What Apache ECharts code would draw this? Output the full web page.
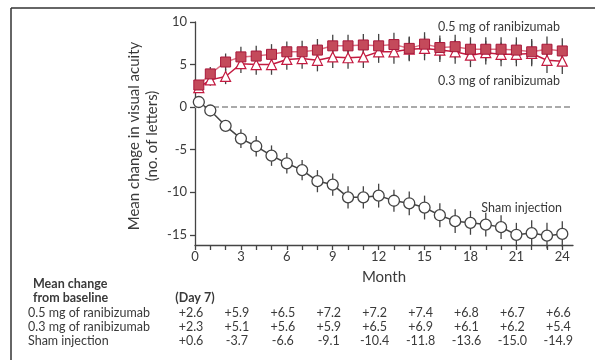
<!DOCTYPE html>
<html>
<head>
<meta charset="utf-8">
<script src="https://cdn.jsdelivr.net/npm/echarts@6/dist/echarts.min.js"></script>
<style>
  html, body { margin: 0; padding: 0; background: #fff; }
  #chart { width: 595px; height: 360px; }
</style>
</head>
<body>
<div id="chart"></div>
<script>
// months of each visit (first point is day 7)
const months = [0.25, 1, 2, 3, 4, 5, 6, 7, 8, 9, 10, 11, 12, 13, 14, 15, 16, 17, 18, 19, 20, 21, 22, 23, 24];

const dose05 = [2.6, 3.9, 5.3, 5.9, 6.0, 6.2, 6.5, 6.5, 6.7, 7.2, 7.2, 7.3, 7.2, 7.35, 6.9, 7.4, 7.0, 7.1, 6.8, 6.8, 6.8, 6.7, 6.5, 6.8, 6.6];
const dose03 = [2.3, 3.2, 3.6, 5.1, 5.0, 5.0, 5.6, 5.7, 5.5, 5.9, 5.8, 5.9, 6.5, 6.5, 6.8, 6.9, 6.7, 6.5, 6.1, 6.4, 6.2, 6.2, 6.3, 5.5, 5.4];
const sham = [0.6, -0.4, -2.2, -3.7, -4.6, -5.7, -6.6, -7.4, -8.7, -9.1, -10.6, -10.6, -10.4, -11.0, -11.3, -11.8, -12.7, -13.4, -13.6, -13.8, -14.1, -15.0, -14.8, -15.1, -14.9];

// half-length of the error bars
const err05 = [0.4, 0.8, 1.0, 1.2, 1.2, 1.2, 1.2, 1.3, 1.3, 1.3, 1.3, 1.3, 1.4, 1.4, 1.4, 1.4, 1.4, 1.4, 1.4, 1.4, 1.4, 1.5, 1.5, 1.5, 1.5];
const err03 = [0.4, 0.7, 0.9, 1.1, 1.2, 1.2, 1.2, 1.2, 1.3, 1.3, 1.3, 1.3, 1.3, 1.4, 1.4, 1.4, 1.4, 1.4, 1.4, 1.4, 1.4, 1.4, 1.5, 1.5, 1.5];
const errSham = [0.2, 0.4, 0.6, 1.1, 1.2, 1.2, 1.2, 1.2, 1.3, 1.3, 1.3, 1.3, 1.4, 1.3, 1.4, 1.4, 1.4, 1.4, 1.4, 1.4, 1.4, 1.4, 1.5, 1.5, 1.5];

const xTicks = [0, 1, 2, 3, 4, 5, 6, 7, 8, 9, 10, 11, 12, 13, 14, 15, 16, 17, 18, 19, 20, 21, 22, 23, 24];
const xLabels = [0, 3, 6, 9, 12, 15, 18, 21, 24];
const yLabels = [-15, -10, -5, 0, 5, 10];

// table under the chart
const tableMonths = [0, 3, 6, 9, 12, 15, 18, 21, 24];
const table05 = [2.6, 5.9, 6.5, 7.2, 7.2, 7.4, 6.8, 6.7, 6.6];
const table03 = [2.3, 5.1, 5.6, 5.9, 6.5, 6.9, 6.1, 6.2, 5.4];
const tableSham = [0.6, -3.7, -6.6, -9.1, -10.4, -11.8, -13.6, -15.0, -14.9];
const rowNames = ["0.5 mg of ranibizumab", "0.3 mg of ranibizumab", "Sham injection"];

const font = "Lato";
const ink = "#3a3a3a";

function pairs(ys) {
  return months.map((m, i) => [m, ys[i]]);
}
function errData(ys, es) {
  return months.map((m, i) => [m, ys[i] - es[i], ys[i] + es[i]]);
}
function errSeries(ys, es) {
  return {
    type: "custom",
    data: errData(ys, es),
    z: 1,
    silent: true,
    renderItem: (params, api) => {
      const lo = api.coord([api.value(0), api.value(1)]);
      const hi = api.coord([api.value(0), api.value(2)]);
      return {
        type: "line",
        shape: { x1: lo[0], y1: lo[1], x2: hi[0], y2: hi[1] },
        style: { stroke: "#444", lineWidth: 1.3 },
      };
    },
  };
}

const chart = echarts.init(document.getElementById("chart"), null, { renderer: "canvas" });

const option = {
  animation: false,
  backgroundColor: "#fff",
  textStyle: { fontFamily: font },
  grid: { left: 195, right: 22, top: 22, bottom: 115 },
  xAxis: {
    type: "value",
    min: 0,
    max: 24.7,
    name: "Month",
    nameLocation: "middle",
    nameGap: 25,
    nameTextStyle: { color: ink, fontSize: 15, fontFamily: font },
    axisLine: { onZero: false, lineStyle: { color: "#444", width: 1.3 } },
    axisTick: { show: true, length: 5, customValues: xTicks, lineStyle: { color: "#444", width: 1.3 } },
    axisLabel: { customValues: xLabels, color: ink, fontSize: 13, margin: 5, fontFamily: font },
    splitLine: { show: false },
  },
  yAxis: {
    type: "value",
    min: -16.2,
    max: 10,
    axisLine: { onZero: false, lineStyle: { color: "#444", width: 1.3 } },
    axisTick: { show: true, length: 5, customValues: yLabels, lineStyle: { color: "#444", width: 1.3 } },
    axisLabel: { customValues: yLabels, color: ink, fontSize: 13, margin: 8, fontFamily: font },
    splitLine: { show: false },
  },
  series: [
    errSeries(sham, errSham),
    errSeries(dose03, err03),
    errSeries(dose05, err05),
    {
      name: "Sham injection",
      type: "line",
      data: pairs(sham),
      z: 3,
      symbol: "circle",
      symbolSize: 11,
      itemStyle: { color: "#fff", borderColor: "#444", borderWidth: 1.3 },
      lineStyle: { color: "#444", width: 1.5 },
      markLine: {
        silent: true,
        symbol: "none",
        label: { show: false },
        lineStyle: { color: "#aaa", type: [6, 3], width: 2 },
        data: [{ yAxis: 0 }],
        z: 2,
      },
    },
    {
      name: "0.3 mg of ranibizumab",
      type: "line",
      data: pairs(dose03),
      z: 4,
      symbol: "triangle",
      symbolSize: 10,
      itemStyle: { color: "#fff", borderColor: "#c41a40", borderWidth: 1.2 },
      lineStyle: { color: "#c41a40", width: 1.5 },
    },
    {
      name: "0.5 mg of ranibizumab",
      type: "line",
      data: pairs(dose05),
      z: 5,
      symbol: "rect",
      symbolSize: 10,
      itemStyle: { color: "#c44a5b", borderColor: "#a8183a", borderWidth: 1 },
      lineStyle: { color: "#dd7082", width: 1.5 },
    },
  ],
};

chart.setOption(option);

function signed(v) {
  return (v > 0 ? "+" : "") + v.toFixed(1);
}

const txt = { fill: ink, fontSize: 12.5, fontFamily: font };
const graphic = [
  // frame
  { type: "line", shape: { x1: 11, y1: 8, x2: 595, y2: 8 }, style: { stroke: "#333", lineWidth: 1.5 } },
  { type: "line", shape: { x1: 11, y1: 8, x2: 11, y2: 360 }, style: { stroke: "#333", lineWidth: 1.5 } },
  // y axis title
  {
    type: "text",
    x: 143,
    y: 136,
    rotation: Math.PI / 2,
    style: {
      text: "Mean change in visual acuity\n(no. of letters)",
      fill: ink,
      fontSize: 15,
      lineHeight: 18,
      fontFamily: font,
      align: "center",
      verticalAlign: "middle",
    },
  },
  // series labels
  { type: "text", right: 35, top: 20, style: Object.assign({ text: "0.5 mg of ranibizumab" }, txt) },
  { type: "text", right: 35, top: 74, style: Object.assign({ text: "0.3 mg of ranibizumab" }, txt) },
  { type: "text", right: 33, top: 201, style: Object.assign({ text: "Sham injection" }, txt) },
  // table headings
  { type: "text", left: 33, top: 277, style: Object.assign({}, txt, { text: "Mean change", fontWeight: "bold" }) },
  { type: "text", left: 33, top: 291, style: Object.assign({}, txt, { text: "from baseline", fontWeight: "bold" }) },
];

const rowTops = [306, 320, 334];
const rows = [table05, table03, tableSham];
rows.forEach((vals, r) => {
  graphic.push({ type: "text", left: 28, top: rowTops[r], style: Object.assign({ text: rowNames[r] }, txt) });
  vals.forEach((v, i) => {
    const x = chart.convertToPixel({ gridIndex: 0 }, [tableMonths[i], 0])[0] - 4;
    graphic.push({
      type: "text",
      x: x,
      y: rowTops[r],
      style: Object.assign({ text: signed(v), align: "center", verticalAlign: "top" }, txt),
    });
  });
});
const dayX = chart.convertToPixel({ gridIndex: 0 }, [tableMonths[0], 0])[0];
graphic.push({
  type: "text",
  x: dayX,
  y: 291,
  style: Object.assign({}, txt, { text: "(Day 7)", align: "center", verticalAlign: "top", fontWeight: "bold" }),
});

chart.setOption({ graphic: graphic });
</script>
</body>
</html>
